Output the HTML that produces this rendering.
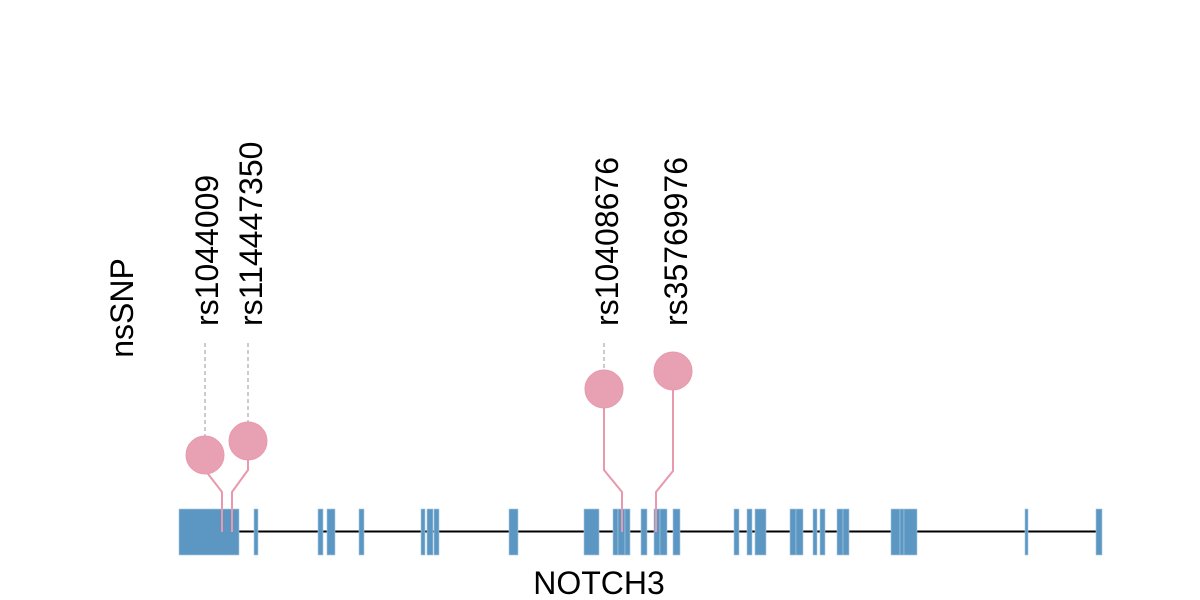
<!DOCTYPE html>
<html><head><meta charset="utf-8"><style>html,body{margin:0;padding:0;background:#fff}svg{display:block}</style></head>
<body>
<svg width="1200" height="600" viewBox="0 0 1200 600" xmlns="http://www.w3.org/2000/svg" font-family="Liberation Sans, Arial, sans-serif">
<line x1="179" y1="531.5" x2="1100" y2="531.5" stroke="#000" stroke-width="2"/>
<g fill="#5b97c2" stroke="#a9c8e0" stroke-width="0.6">
<rect x="179" y="509" width="60" height="46"/>
<rect x="254" y="509" width="4" height="46"/>
<rect x="318" y="509" width="5" height="46"/>
<rect x="327" y="509" width="8" height="46"/>
<rect x="359" y="509" width="5" height="46"/>
<rect x="421" y="509" width="4" height="46"/>
<rect x="427" y="509" width="6" height="46"/>
<rect x="434" y="509" width="5" height="46"/>
<rect x="509" y="509" width="9" height="46"/>
<rect x="584" y="509" width="15" height="46"/>
<rect x="613" y="509" width="5" height="46"/>
<rect x="618" y="509" width="7" height="46"/>
<rect x="625" y="509" width="5" height="46"/>
<rect x="641" y="509" width="6" height="46"/>
<rect x="654" y="509" width="6" height="46"/>
<rect x="660" y="509" width="7" height="46"/>
<rect x="673" y="509" width="7" height="46"/>
<rect x="734" y="509" width="5" height="46"/>
<rect x="747" y="509" width="5" height="46"/>
<rect x="755" y="509" width="11" height="46"/>
<rect x="790" y="509" width="6" height="46"/>
<rect x="796" y="509" width="7" height="46"/>
<rect x="813" y="509" width="4" height="46"/>
<rect x="820" y="509" width="5" height="46"/>
<rect x="837" y="509" width="6" height="46"/>
<rect x="843" y="509" width="6" height="46"/>
<rect x="891" y="509" width="9" height="46"/>
<rect x="900" y="509" width="4" height="46"/>
<rect x="904" y="509" width="13" height="46"/>
<rect x="1025" y="509" width="3" height="46"/>
<rect x="1096" y="509" width="6" height="46"/>
</g>
<g stroke="#bbb" stroke-width="1.5" stroke-dasharray="4,3">
<line x1="205" y1="343" x2="205" y2="436"/>
<line x1="248" y1="343" x2="248" y2="422"/>
<line x1="604" y1="343" x2="604" y2="370"/>
</g>
<g stroke="#e899ad" stroke-width="2" fill="none">
<polyline points="205,470 222,492 222,532"/>
<polyline points="248,460 248,470 232,492 232,532"/>
<polyline points="604,408 604,470 622,492 622,532"/>
<polyline points="673,390 673,471 656,492 656,532"/>
</g>
<g fill="#e8a1b2" stroke="#e899ad" stroke-width="1">
<circle cx="205" cy="455" r="19"/>
<circle cx="248" cy="441" r="19"/>
<circle cx="604" cy="389" r="19"/>
<circle cx="673" cy="371" r="19"/>
</g>
<g font-size="32" fill="#000">
<text transform="translate(218,326) rotate(-90)">rs1044009</text>
<text transform="translate(262,326) rotate(-90)">rs114447350</text>
<text transform="translate(618,326) rotate(-90)">rs10408676</text>
<text transform="translate(687,326) rotate(-90)">rs35769976</text>
<text transform="translate(133,308) rotate(-90)" text-anchor="middle">nsSNP</text>
<text x="599" y="594" text-anchor="middle">NOTCH3</text>
</g>
</svg>
</body></html>
